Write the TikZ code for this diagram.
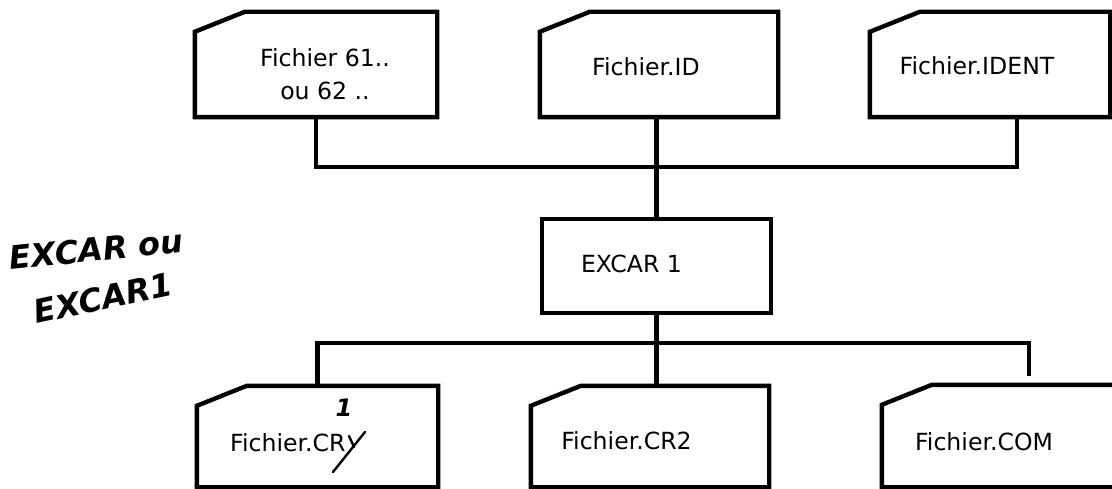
\documentclass[tikz,border=0pt]{standalone}
\usepackage{fontspec}
\setmainfont{DejaVu Sans}
\newfontfamily\handfont{DejaVu Sans}
\begin{document}
\begin{tikzpicture}[x=1pt,y=-1pt,
  filebox/.style={draw=none,minimum height=#1,inner sep=0pt},
  outline/.style={line width=4.4pt,line join=miter},
  conn/.style={line width=4.4pt},
  lbl/.style={font=\fontsize{23.6}{33}\selectfont,inner sep=0pt},
  hand/.style={font=\handfont\bfseries\itshape\fontsize{32}{32}\selectfont,inner sep=0pt,line width=2pt}]
\clip (0,0) rectangle (1112,489);
\fill[white] (0,0) rectangle (1112,489);
% boxes (invisible frames)
\node[filebox=105pt,minimum width=242pt] (f1) at (316,64.5) {};
\node[filebox=105pt,minimum width=238pt] (f2) at (659,64.5) {};
\node[filebox=105pt,minimum width=240pt] (f3) at (990,64.5) {};
\node[filebox=94pt,minimum width=229pt] (ex) at (656.5,266) {};
\node[filebox=101pt,minimum width=241pt] (f4) at (317.5,436.5) {};
\node[filebox=101pt,minimum width=238pt] (f5) at (650,436.5) {};
\node[filebox=102pt,minimum width=250pt] (f6) at (1007,436) {};
% outlines with cut corner
\foreach \n in {f1,f2,f3,f4,f5,f6}
  \draw[outline] ([yshift=-20pt]\n.north west) -- ([xshift=50pt]\n.north west) -- (\n.north east) -- (\n.south east) -- (\n.south west) -- cycle;
\draw[outline] (ex.north west) rectangle (ex.south east);
% texts
\node[lbl,align=center,anchor=north] (t1) at (325,48) {Fichier 61..\\ou 62 ..};
\node[lbl,anchor=base] (t2) at (646,76) {Fichier.ID};
\node[lbl,anchor=base] (t3) at (977,75) {Fichier.IDENT};
\node[lbl,anchor=base] (tx) at (631.5,273) {EXCAR 1};
\node[lbl,anchor=base west] (t4) at (230,451) {Fichier.CR};
\node[lbl,anchor=base] (t5) at (626.5,449) {Fichier.CR2};
\node[lbl,anchor=base] (t6) at (984,450) {Fichier.COM};
% connectors
\coordinate (busT) at (656,167);
\coordinate (busB) at (656,343);
\coordinate (c3) at (1017,117);
\coordinate (c6) at (1029,376);
\draw[conn] (f1.south) |- (c3 |- busT) -- (c3);
\draw[conn] (ex.north |- f2.south) -- (ex.north);
\draw[conn] (ex.south) -- (ex.south |- f5.north);
\draw[conn] (f4.north) |- (c6 |- busB) -- (c6);
% handwritten annotations
\node[hand,rotate=6,anchor=base west] (h1) at (10,270) {EXCAR ou};
\node[hand,rotate=12,anchor=base west] (h2) at (36,324) {EXCAR1};
\node[hand,font=\handfont\bfseries\itshape\fontsize{24}{24}\selectfont,anchor=base] (h3) at (344,416) {1};
\draw[line width=2.4pt,line cap=round] (365,432) -- (333,472);
\draw[line width=2.4pt,line cap=round] (349,436) -- (354,447);
\end{tikzpicture}
\end{document}
